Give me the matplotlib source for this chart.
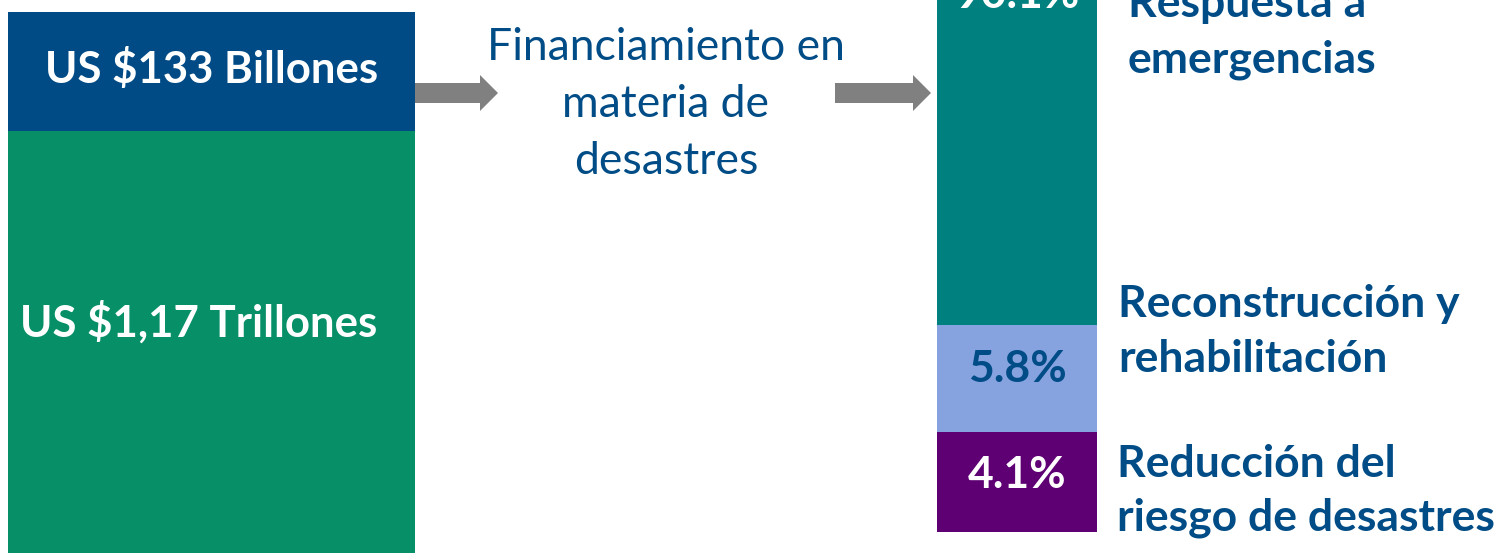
import matplotlib
matplotlib.use("Agg")
import matplotlib.pyplot as plt
from matplotlib.patches import FancyArrow

# ---- data ----
left_labels = ["US $133 Billones", "US $1,17 Trillones"]
left_colors = ["#004B85", "#079067"]
left_heights = [119, 430]          # displayed segment heights (stylised, not to scale)

right_pcts = [4.1, 5.8, 90.1]      # bottom -> top
right_names = [["Reducción del", "riesgo de desastres"],
               ["Reconstrucción y", "rehabilitación"],
               ["Respuesta a", "emergencias"]]
right_colors = ["#5E0074", "#86A3E0", "#00807F"]
right_pct_colors = ["white", "#004C86", "white"]
right_heights = [100, 107, 340]    # displayed segment heights (stylised)

middle_lines = ["Financiamiento en", "materia de", "desastres"]

TEXT_BLUE = "#004C86"
GRAY = "#808080"
FONT = "Lato"

W, H = 1503, 553
fig = plt.figure(figsize=(W / 100, H / 100), dpi=100)
ax = fig.add_axes([0, 0, 1, 1])
ax.set_xlim(0, W)
ax.set_ylim(H, 0)
ax.axis("off")

# left stacked block (top-down)
top = 12
for lab, col, h in zip(left_labels, left_colors, left_heights):
    ax.bar(211.5, h, bottom=top, width=407, color=col, linewidth=0)
    top += h
ax.text(212, 83, left_labels[0], color="white", fontsize=31.5, fontweight="bold",
        family=FONT, ha="center", va="baseline")
ax.text(199, 337, left_labels[1], color="white", fontsize=31.5, fontweight="bold",
        family=FONT, ha="center", va="baseline")

# arrows
for x0, x1 in [(415, 498), (835, 931)]:
    ax.add_patch(FancyArrow(x0, 93, x1 - x0, 0, width=20, head_width=36,
                            head_length=18, length_includes_head=True,
                            color=GRAY, linewidth=0))

for line, yb in zip(middle_lines, [60, 117, 174]):
    ax.text(666, yb, line, color=TEXT_BLUE, fontsize=32, family=FONT,
            ha="center", va="baseline")

# right stacked block (bottom-up)
base = 532
name_x = [1117, 1118, 1128]
name_y = [(477, 530), (317, 372), (17, 73)]
pct_y = [488, 382, 8]
for i, (p, nm, col, pc, h) in enumerate(zip(right_pcts, right_names, right_colors,
                                            right_pct_colors, right_heights)):
    ax.bar(1017, -h, bottom=base, width=160, color=col, linewidth=0)
    base -= h
    ax.text(1017, pct_y[i], f"{p}%", color=pc, fontsize=32, fontweight="bold",
            family=FONT, ha="center", va="baseline")
    for line, yb in zip(nm, name_y[i]):
        ax.text(name_x[i], yb, line, color=TEXT_BLUE, fontsize=32,
                fontweight="bold", family=FONT, ha="left", va="baseline")

fig.savefig("out.png", dpi=100)
